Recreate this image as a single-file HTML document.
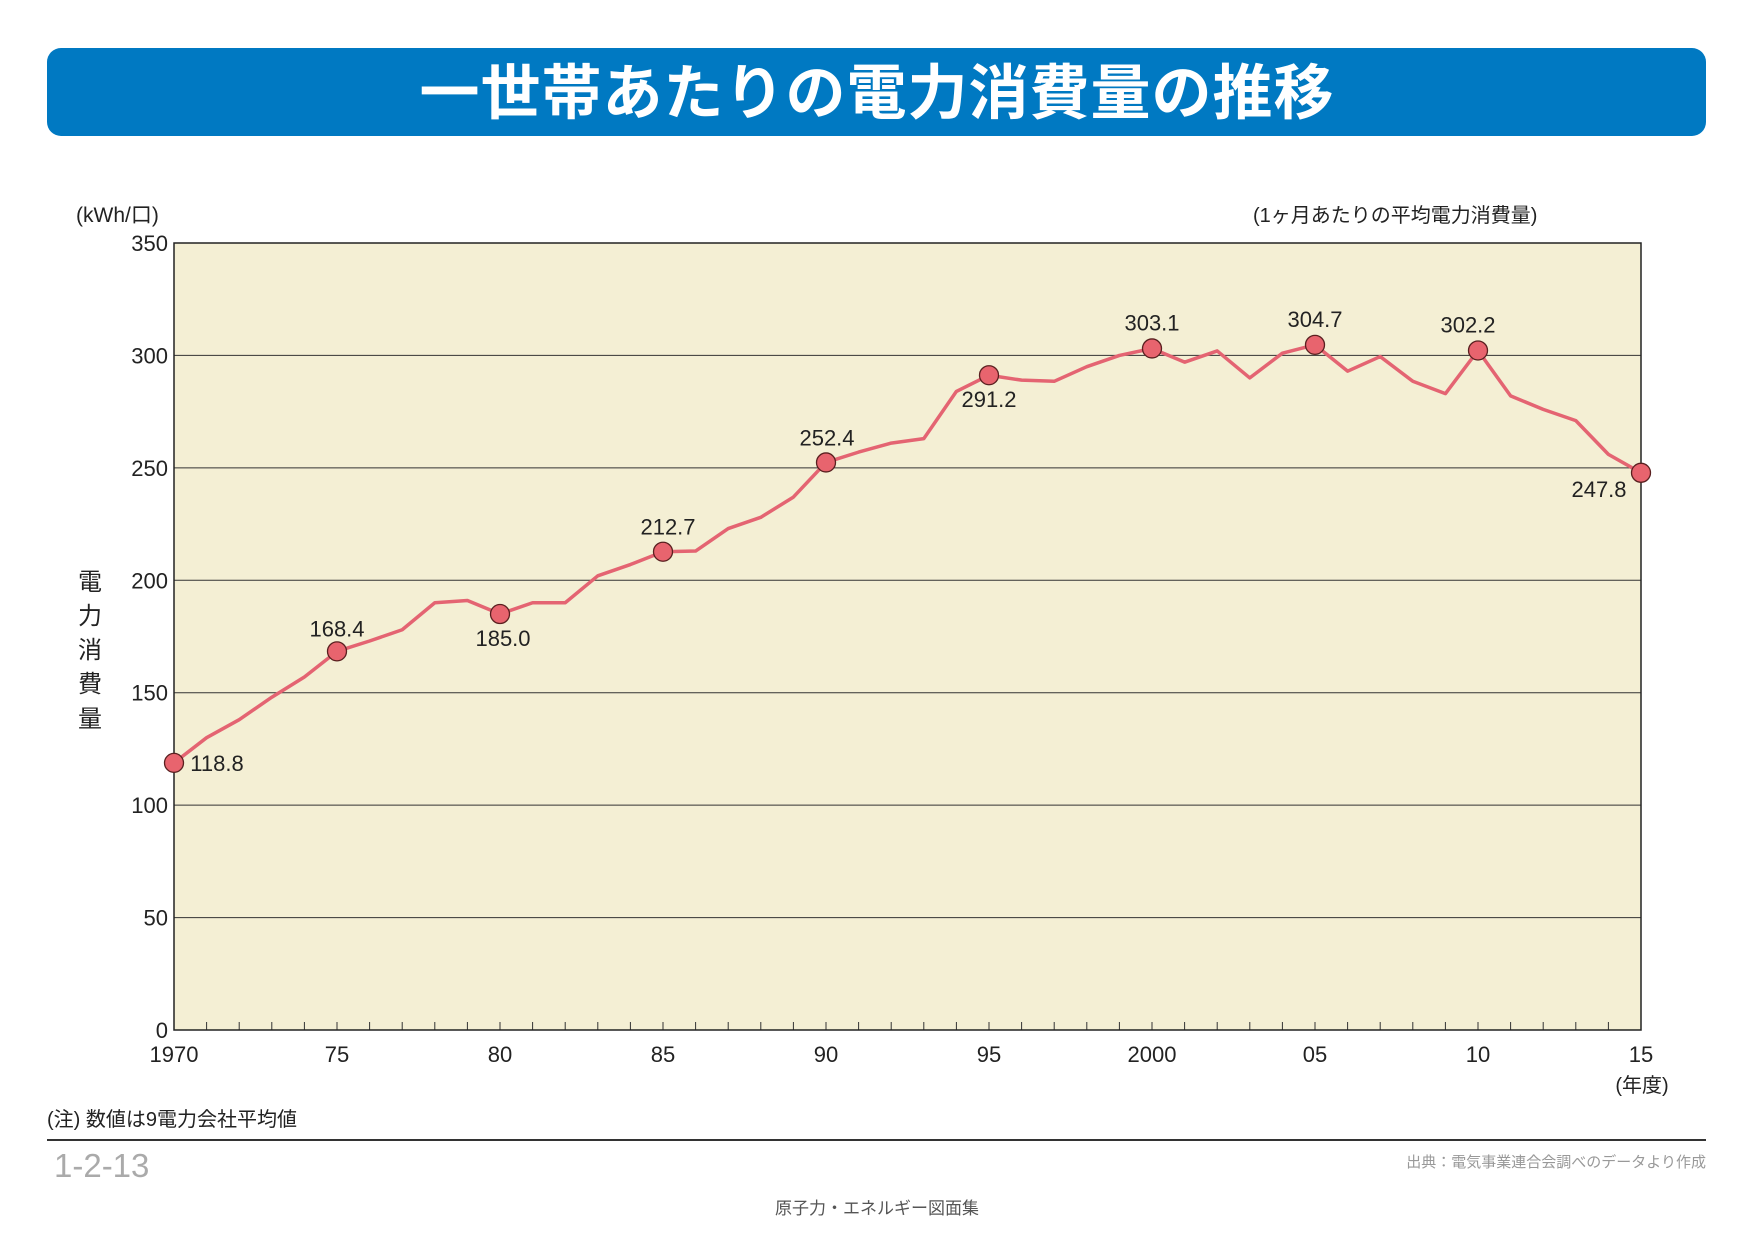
<!DOCTYPE html>
<html><head><meta charset="utf-8"><style>
body{margin:0;background:#fff;}
svg text{font-family:"Liberation Sans","Noto Sans CJK JP",sans-serif;fill:#222;}
</style></head><body>
<svg id="s" width="1754" height="1240" xmlns="http://www.w3.org/2000/svg">
<rect x="47" y="48" width="1659" height="88" rx="14" fill="#0079c2"/>
<text x="877" y="114" text-anchor="middle" font-size="60" font-weight="bold" letter-spacing="1" style="fill:#fff">一世帯あたりの電力消費量の推移</text>
<rect x="174" y="243" width="1467" height="787" fill="#f4efd4"/>
<g id="grid"></g>
<rect x="174" y="243" width="1467" height="787" fill="none" stroke="#222" stroke-width="1.5"/>
<text x="76" y="222" font-size="21">(kWh/口)</text>
<text x="1253" y="222" font-size="20">(1ヶ月あたりの平均電力消費量)</text>
<g font-size="24" text-anchor="middle">
<text x="90" y="590">電</text><text x="90" y="624">力</text><text x="90" y="658">消</text><text x="90" y="692">費</text><text x="90" y="727">量</text>
</g>
<g id="yl" font-size="22" text-anchor="end"></g>
<g id="xl" font-size="22" text-anchor="middle"></g>
<text x="1642" y="1092" font-size="20" text-anchor="middle">(年度)</text>
<polyline id="ln" fill="none" stroke="#e46472" stroke-width="3.5" stroke-linejoin="round"/>
<g id="mk"></g>
<g id="lb" font-size="22" text-anchor="middle"></g>
<text x="47" y="1126" font-size="20">(注) 数値は9電力会社平均値</text>
<line x1="47" y1="1140" x2="1706" y2="1140" stroke="#333" stroke-width="2"/>
<text x="54" y="1177" font-size="33" style="fill:#aaa">1-2-13</text>
<text x="1706" y="1167" font-size="15" text-anchor="end" style="fill:#999">出典：電気事業連合会調べのデータより作成</text>
<text x="877" y="1214" font-size="17" text-anchor="middle" style="fill:#555">原子力・エネルギー図面集</text>
</svg>
<script>
var NS="http://www.w3.org/2000/svg";
function el(p,t,a,tx){var e=document.createElementNS(NS,t);for(var k in a)e.setAttribute(k,a[k]);if(tx!=null)e.textContent=tx;document.getElementById(p).appendChild(e);}
var X=function(i){return 174+i*1467/45},Y=function(v){return 1030-v*787/350};
for(var v=50;v<350;v+=50)el("grid","line",{x1:174,x2:1641,y1:Y(v),y2:Y(v),stroke:"#333","stroke-width":1});
for(var i=1;i<45;i++)el("grid","line",{x1:X(i),x2:X(i),y1:1022,y2:1030,stroke:"#333","stroke-width":1});
for(var v=0;v<=350;v+=50)el("yl","text",{x:168,y:Y(v)+8},v);
var xs=["1970","75","80","85","90","95","2000","05","10","15"];
xs.forEach(function(t,j){el("xl","text",{x:X(j*5),y:1062},t)});
var d=[118.8,130,138,148,157,168.4,173,178,190,191,185.0,190,190,202,207,212.7,213,223,228,237,252.4,257,261,263,284,291.2,289,288.5,295,300,303.1,297,302,290,301,304.7,293,299.5,288.5,283,302.2,282,276,271,256,247.8];
document.getElementById("ln").setAttribute("points",d.map(function(v,i){return X(i)+","+Y(v)}).join(" "));
var L=[[0,"118.8",43,8],[5,"168.4",0,-15],[10,"185.0",3,32],[15,"212.7",5,-17],[20,"252.4",1,-17],[25,"291.2",0,32],[30,"303.1",0,-18],[35,"304.7",0,-18],[40,"302.2",-10,-18],[45,"247.8",-42,24]];
L.forEach(function(a){var x=X(a[0]),y=Y(d[a[0]]);el("mk","circle",{cx:x,cy:y,r:9.5,fill:"#e8646e",stroke:"#5a2020","stroke-width":1.3});el("lb","text",{x:x+a[2],y:y+a[3]},a[1]);});
</script>
</body></html>
